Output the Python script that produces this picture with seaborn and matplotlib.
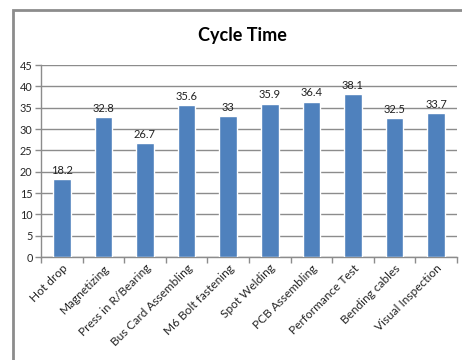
import matplotlib
matplotlib.use("Agg")
import matplotlib.pyplot as plt
import seaborn as sns
import pandas as pd
import numpy as np
from matplotlib.patches import Rectangle

stations = ["Hot drop", "Magnetizing", "Press in R/Bearing", "Bus Card Assembling",
            "M6 Bolt fastening", "Spot Welding", "PCB Assembling", "Performance Test",
            "Bending cables", "Visual Inspection"]
cycle_time = [18.2, 32.8, 26.7, 35.6, 33, 35.9, 36.4, 38.1, 32.5, 33.7]
value_labels = ["18.2", "32.8", "26.7", "35.6", "33", "35.9", "36.4", "38.1", "32.5", "33.7"]
y_ticks = [0, 5, 10, 15, 20, 25, 30, 35, 40, 45]

sns.set_theme(style="white")
plt.rcParams["font.family"] = ["Lato", "DejaVu Sans"]

df = pd.DataFrame({"station": stations, "time": cycle_time})

fig = plt.figure(figsize=(4.62, 3.6), dpi=100)
ax = fig.add_axes([41 / 462, 103 / 360, 416 / 462, 192 / 360])

sns.barplot(data=df, x="station", y="time", color="#4f81bd", width=0.42,
            saturation=1, ax=ax, zorder=3)

ax.set_ylim(0, 45)
ax.set_xlim(-0.5, len(stations) - 0.5)
ax.set_yticks(y_ticks)
ax.set_yticklabels([str(t) for t in y_ticks], fontsize=7.8)
ax.yaxis.grid(True, color="#8c8c8c", linewidth=1, zorder=0)
ax.set_xlabel("")
ax.set_ylabel("")

ax.set_xticks(np.arange(len(stations)))
ax.set_xticklabels(stations, rotation=45, ha="right", rotation_mode="anchor", fontsize=8.6)
ax.tick_params(axis="x", length=0, pad=4)
# category boundary ticks on the bottom axis
ax.set_xticks(np.arange(-0.5, len(stations)), minor=True)
ax.tick_params(axis="x", which="minor", bottom=True, length=4, color="#8c8c8c", width=1)
ax.tick_params(axis="y", left=True, length=4, color="#8c8c8c", width=1, pad=2)

for s in ["top", "right"]:
    ax.spines[s].set_visible(False)
for s in ["left", "bottom"]:
    ax.spines[s].set_color("#8c8c8c")
    ax.spines[s].set_linewidth(1)

for i, (v, lab) in enumerate(zip(cycle_time, value_labels)):
    ax.text(i, v + 0.8, lab, ha="center", va="bottom", fontsize=8, color="#222222")

fig.text(0.524, 0.9, "Cycle Time", ha="center", va="center", fontsize=13,
         fontweight="bold", color="black")

frame = Rectangle((13 / 462, -0.05), 1.1, (350 / 360) + 0.05, transform=fig.transFigure,
                  fill=False, edgecolor="#8c8c8c", linewidth=2, clip_on=False)
fig.patches.append(frame)

fig.savefig("out.png", dpi=100, facecolor="white")
